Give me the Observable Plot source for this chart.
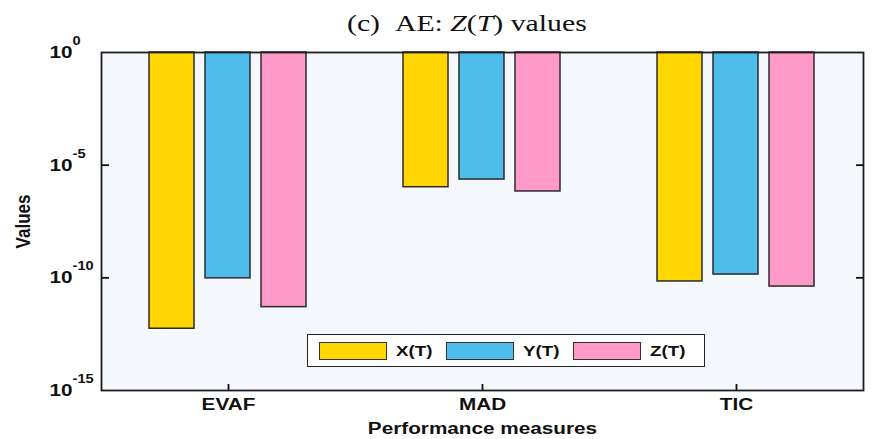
<!DOCTYPE html>
<html>
<head>
<meta charset="utf-8">
<script src="https://cdn.jsdelivr.net/npm/d3@7"></script>
<script src="https://cdn.jsdelivr.net/npm/@observablehq/plot@0.6"></script>
<style>
  body { margin: 0; background: #fff; }
  #wrap { position: relative; width: 880px; height: 439px; overflow: hidden; background: #fff; }
  #title { position: absolute; left: 347px; top: 11px; z-index: 2; font-family: "Liberation Serif", "Times New Roman", serif;
           font-size: 24px; line-height: 24px; color: #111; white-space: nowrap;
           transform: scaleX(1.24); transform-origin: left center; }
  #chart { position: absolute; left: 0; top: 0; }
  #legend { position: absolute; left: 307px; top: 334px; width: 396px; height: 31px; background: #fff;
            border: 1.5px solid #222; display: flex; align-items: center; box-sizing: content-box; }
  .item { display: flex; align-items: center; margin-left: 11px; margin-right: 5px; }
  .sw { width: 66px; height: 16px; border: 1.5px solid #333; }
  .lab { font-family: "Liberation Sans", Arial, sans-serif; font-weight: bold; font-size: 15px; color: #111;
         display: inline-block; width: 34px; margin-left: 9px; transform: scaleX(1.25); transform-origin: left center; }
</style>
</head>
<body>
<div id="wrap">
  <div id="chart"></div>
  <div id="title">(c)&nbsp;&nbsp;AE: <i>Z</i>(<i>T</i>) values</div>
  <div id="legend"></div>
</div>
<script>
// ---- data ----
const measures = ["EVAF", "MAD", "TIC"];
const seriesNames = ["X(T)", "Y(T)", "Z(T)"];
const seriesColors = ["#FFD600", "#4EBDEC", "#FF99C8"];
const xValues = [5.5e-13, 1.05e-6, 6.9e-11];
const yValues = [9.5e-11, 2.3e-6, 1.4e-10];
const zValues = [5.0e-12, 6.8e-7, 4.1e-11];
const yTicks = [1, 1e-5, 1e-10, 1e-15];
const yTickLabels = ["10^0", "10^-5", "10^-10", "10^-15"];
const innerTicks = [1e-5, 1e-10];
const yLabel = "Values";
const xLabel = "Performance measures";

const allValues = [xValues, yValues, zValues];
const data = measures.flatMap((m, i) =>
  seriesNames.map((s, j) => ({measure: m, series: s, value: allValues[j][i]})));

const STRETCH = 1.22;

const chart = Plot.plot({
  width: 880,
  height: 439,
  marginTop: 52,
  marginBottom: 49,
  marginLeft: 101,
  marginRight: 17,
  style: {fontFamily: "'Liberation Sans', Arial, sans-serif", fontWeight: "bold", fontSize: "17px", color: "#111", background: "#fff"},
  fx: {domain: measures, padding: 0},
  x: {domain: seriesNames, paddingInner: 0.193, paddingOuter: 0.825, axis: null},
  y: {type: "log", domain: [1e-15, 1]},
  color: {domain: seriesNames, range: seriesColors},
  marks: [
    Plot.frame({facet: "super", fill: "#F4F7FC", stroke: "none"}),
    Plot.barY(data, {fx: "measure", x: "series", y1: 1, y2: "value", fill: "series", stroke: "#2b2b2b", strokeWidth: 1.5}),
    Plot.frame({facet: "super", stroke: "#1e1e1e", strokeWidth: 1.8}),
    Plot.axisY({anchor: "left", ticks: yTicks, tickSize: 0, tickPadding: 52, textAnchor: "start",
                tickFormat: d => yTickLabels[yTicks.indexOf(d)], label: yLabel, labelArrow: "none",
                labelAnchor: "center", labelOffset: 86}),
    Plot.axisFx({anchor: "bottom", tickSize: 0, tickPadding: 7, label: xLabel, labelArrow: "none",
                 labelAnchor: "center", labelOffset: 43}),
    Plot.axisY({anchor: "left", ticks: innerTicks, tickSize: 8, dx: 8, tickFormat: () => "", label: null, stroke: "#111", strokeWidth: 1.8}),
    Plot.axisY({anchor: "right", ticks: innerTicks, tickSize: 8, dx: -8, tickFormat: () => "", label: null, stroke: "#111", strokeWidth: 1.8}),
    Plot.axisFx({anchor: "bottom", tickSize: 6, dy: -6, tickFormat: () => "", label: null, stroke: "#111", strokeWidth: 1.8})
  ]
});
document.getElementById("chart").appendChild(chart);

// superscript exponents on the log tick labels
chart.querySelectorAll('g[aria-label="y-axis tick label"] text').forEach(t => {
  const s = t.textContent;
  if (!s.includes("^")) return;
  const [base, exp] = s.split("^");
  t.textContent = "";
  const a = document.createElementNS("http://www.w3.org/2000/svg", "tspan");
  a.textContent = base;
  const b = document.createElementNS("http://www.w3.org/2000/svg", "tspan");
  b.textContent = exp;
  b.setAttribute("dy", "-13");
  b.setAttribute("font-size", "12");
  t.appendChild(a); t.appendChild(b);
});

// the reference's lettering is horizontally widened
chart.querySelectorAll("text").forEach(t => {
  const tr = t.getAttribute("transform") || "";
  if (!tr) return;
  t.setAttribute("transform", tr + (tr.includes("rotate") ? ` scale(1,${STRETCH})` : ` scale(${STRETCH},1)`));
});

// legend
const legend = d3.select("#legend");
seriesNames.forEach((s, i) => {
  const it = legend.append("div").attr("class", "item");
  it.append("div").attr("class", "sw").style("background", seriesColors[i]);
  it.append("span").attr("class", "lab").text(s);
});
</script>
</body>
</html>
